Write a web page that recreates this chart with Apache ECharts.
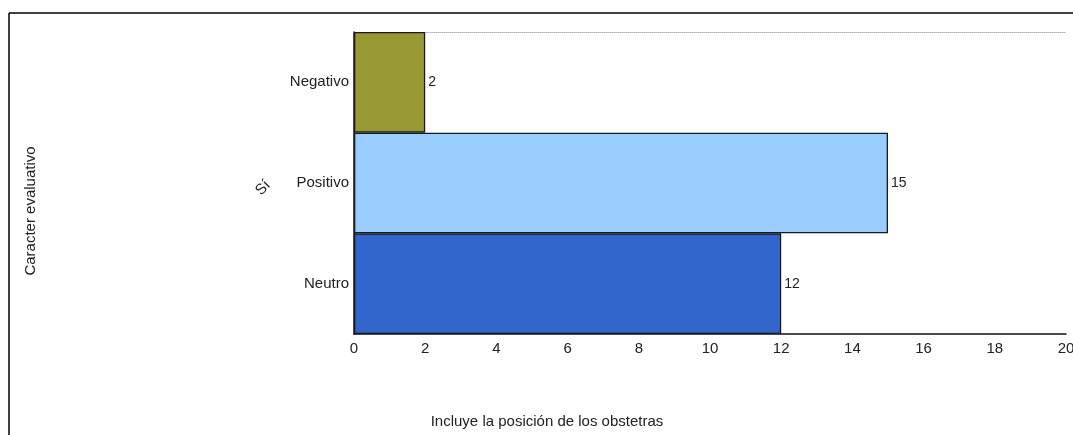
<!DOCTYPE html>
<html>
<head>
<meta charset="utf-8">
<script src="https://cdn.jsdelivr.net/npm/echarts@6/dist/echarts.min.js"></script>
<style>
    html, body { margin: 0; padding: 0; background: #fff; }
    #chart { width: 1073px; height: 435px; }
</style>
</head>
<body>
<div id="chart"></div>
<script>
    // datos
    var categories = ['Neutro', 'Positivo', 'Negativo'];
    var values = [12, 15, 2];
    var barColors = ['#3366cc', '#99ccff', '#999933'];
    var xTicks = [0, 2, 4, 6, 8, 10, 12, 14, 16, 18, 20];

    var chart = echarts.init(document.getElementById('chart'));
    var font = '"Liberation Sans", Arial, sans-serif';

    var option = {
        animation: false,
        backgroundColor: '#fff',
        grid: {left: 354, right: 7, top: 32, bottom: 101, outerBoundsMode: 'none', containLabel: false},
        xAxis: [
            {
                type: 'value',
                min: xTicks[0],
                max: xTicks[xTicks.length - 1],
                interval: 2,
                axisLine: {show: true, lineStyle: {color: '#111', width: 1.5}},
                axisTick: {show: false},
                splitLine: {show: false},
                axisLabel: {color: '#222', fontSize: 15, fontFamily: font, margin: 7}
            },
            {
                // linea punteada superior
                type: 'value',
                position: 'top',
                min: xTicks[0],
                max: xTicks[xTicks.length - 1],
                axisLine: {show: true, lineStyle: {color: '#b0b0b0', type: 'dotted', width: 1}},
                axisTick: {show: false},
                axisLabel: {show: false},
                splitLine: {show: false}
            }
        ],
        yAxis: {
            type: 'category',
            data: categories,
            axisLine: {show: true, lineStyle: {color: '#111', width: 1.5}},
            axisTick: {show: false},
            axisLabel: {color: '#222', fontSize: 15, fontFamily: font, margin: 5, padding: [4, 0, 0, 0]}
        },
        series: [{
            type: 'bar',
            barWidth: '100%',
            barCategoryGap: 0,
            data: values.map(function (v, i) {
                return {value: v, itemStyle: {color: barColors[i]}};
            }),
            itemStyle: {borderColor: '#1a1a1a', borderWidth: 1.3},
            label: {
                show: true,
                position: 'right',
                distance: 3,
                color: '#222',
                fontSize: 14,
                fontFamily: font,
                padding: [3, 0, 0, 0]
            }
        }],
        graphic: [
            {type: 'line', shape: {x1: 9, y1: 13, x2: 1073, y2: 13}, style: {stroke: '#000', lineWidth: 1.5}},
            {type: 'line', shape: {x1: 9, y1: 13, x2: 9, y2: 435}, style: {stroke: '#000', lineWidth: 1.5}},
            {
                type: 'text', x: 31, y: 211, rotation: Math.PI / 2,
                style: {text: 'Caracter evaluativo', fill: '#222', font: '15px ' + font, textAlign: 'center', textVerticalAlign: 'middle'}
            },
            {
                type: 'text', x: 263, y: 188, rotation: Math.PI / 4,
                style: {text: 'Sí', fill: '#222', font: '15px ' + font, textAlign: 'center', textVerticalAlign: 'middle'}
            },
            {
                type: 'text', x: 547, y: 422,
                style: {text: 'Incluye la posición de los obstetras', fill: '#222', font: '15px ' + font, textAlign: 'center', textVerticalAlign: 'middle'}
            }
        ]
    };
    chart.setOption(option);
</script>
</body>
</html>
